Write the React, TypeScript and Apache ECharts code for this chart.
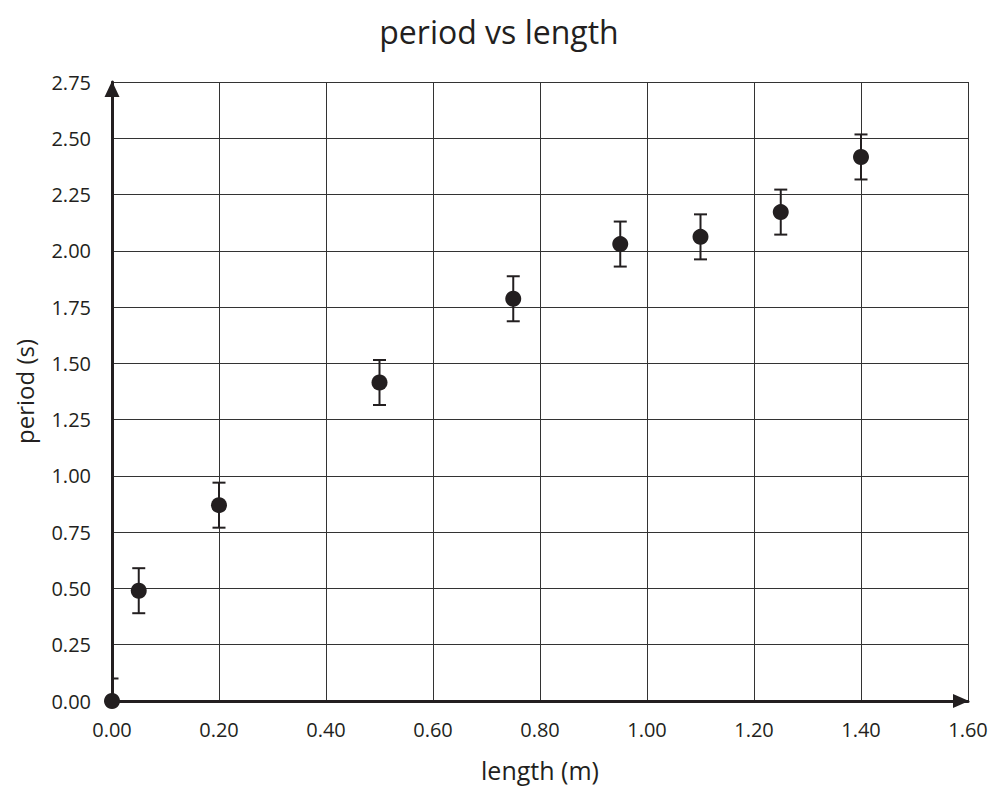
import React, { useEffect, useRef } from "react";
import * as echarts from "echarts";

const lengths = [0.0, 0.05, 0.2, 0.5, 0.75, 0.95, 1.1, 1.25, 1.4];
const periods = [0.0, 0.49, 0.87, 1.415, 1.787, 2.03, 2.062, 2.172, 2.417];
const errors = [0.1, 0.1, 0.1, 0.1, 0.1, 0.1, 0.1, 0.1, 0.1];
const lowBounds = [0.0, 0.39, 0.77, 1.315, 1.687, 1.93, 1.962, 2.072, 2.317];

const INK = "#231f20";
const FONT = "'Open Sans', 'Noto Sans', sans-serif";

export default function App() {
  const ref = useRef<HTMLDivElement>(null);
  useEffect(() => {
    document.body.style.margin = "0";
    document.body.style.overflow = "hidden";
    if (!ref.current) return;
    const chart = echarts.init(ref.current, undefined, { renderer: "svg" });
    const scatterData = lengths.map((x, i) => [x, periods[i]]);
    const errData = lengths.map((x, i) => [x, lowBounds[i], periods[i] + errors[i]]);
    chart.setOption({
      animation: false,
      backgroundColor: "#ffffff",
      title: {
        text: "period vs length",
        left: 494,
        top: 10,
        textAlign: "center",
        textStyle: { fontFamily: FONT, fontSize: 32, fontWeight: "normal", color: INK },
      },
      grid: { left: 112, right: 24, top: 82, bottom: 84, containLabel: false },
      xAxis: {
        type: "value",
        min: 0,
        max: 1.6,
        interval: 0.2,
        name: "length (m)",
        nameLocation: "middle",
        nameGap: 56,
        nameTextStyle: { fontFamily: FONT, fontSize: 25, color: INK },
        axisLine: {
          show: true,
          onZero: false,
          symbol: ["none", "triangle"],
          symbolSize: [14, 16],
          symbolOffset: [0, -7],
          lineStyle: { color: INK, width: 3 },
        },
        axisTick: { show: false },
        axisLabel: {
          fontFamily: FONT,
          fontSize: 20,
          color: INK,
          margin: 18,
          formatter: (v: number) => v.toFixed(2),
        },
        splitLine: { show: true, lineStyle: { color: "#333333", width: 1 } },
      },
      yAxis: {
        type: "value",
        min: 0,
        max: 2.75,
        interval: 0.25,
        name: "period (s)",
        nameLocation: "middle",
        nameGap: 76,
        nameTextStyle: { fontFamily: FONT, fontSize: 24, color: INK },
        axisLine: {
          show: true,
          onZero: false,
          symbol: ["none", "triangle"],
          symbolSize: [15, 16],
          symbolOffset: [0, -7],
          lineStyle: { color: INK, width: 3 },
        },
        axisTick: { show: false },
        axisLabel: {
          fontFamily: FONT,
          fontSize: 20,
          color: INK,
          margin: 21,
          formatter: (v: number) => v.toFixed(2),
        },
        splitLine: { show: true, lineStyle: { color: "#333333", width: 1 } },
      },
      series: [
        {
          type: "custom",
          clip: true,
          z: 3,
          data: errData,
          renderItem: (params: any, api: any) => {
            const x = api.value(0);
            const lo = api.coord([x, api.value(1)]);
            const hi = api.coord([x, api.value(2)]);
            const half = 6.5;
            const style = { stroke: INK, lineWidth: 2, fill: "none" };
            return {
              type: "group",
              children: [
                { type: "line", shape: { x1: lo[0], y1: lo[1], x2: hi[0], y2: hi[1] }, style },
                { type: "line", shape: { x1: hi[0] - half, y1: hi[1], x2: hi[0] + half, y2: hi[1] }, style },
                { type: "line", shape: { x1: lo[0] - half, y1: lo[1], x2: lo[0] + half, y2: lo[1] }, style },
              ],
            };
          },
        },
        {
          type: "scatter",
          z: 4,
          symbol: "circle",
          symbolSize: 16,
          itemStyle: { color: INK, opacity: 1 },
          data: scatterData,
          clip: false,
        },
      ],
    });
    return () => chart.dispose();
  }, []);
  return <div ref={ref} style={{ width: 992, height: 787 }} />;
}
